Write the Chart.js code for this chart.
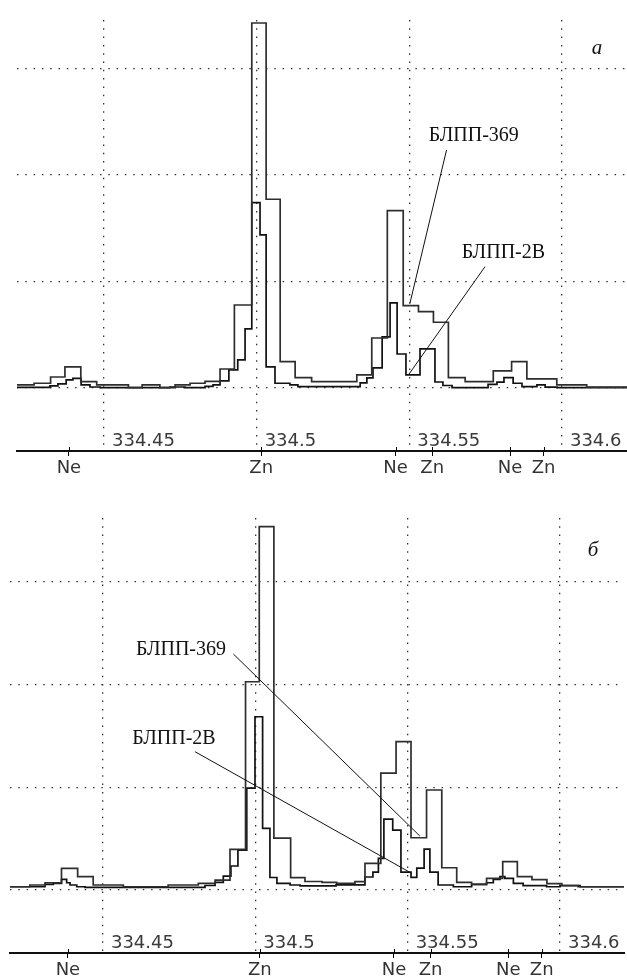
<!DOCTYPE html>
<html>
<head>
<meta charset="utf-8">
<script src="https://cdn.jsdelivr.net/npm/chart.js@4.4.1/dist/chart.umd.min.js"></script>
<style>
  html, body { margin: 0; padding: 0; background: #fff; }
  canvas { display: block; }
</style>
</head>
<body>
<canvas id="panelA" width="627" height="490"></canvas>
<canvas id="panelB" width="627" height="490"></canvas>
<script>
// wavelength grid, nm
const gridTicks = [334.45, 334.5, 334.55, 334.6];
const gridLabels = ['334.45', '334.5', '334.55', '334.6'];
// intensity grid, arb. units
const levelTicks = [0, 1000, 2000, 3000];
// lines marked under the axis
const lineNames = ['Ne', 'Zn', 'Ne', 'Zn', 'Ne', 'Zn'];
const lineWl = [334.4385, 334.5015, 334.5455, 334.5575, 334.5830, 334.5940];
const seriesNames = ['БЛПП-369', 'БЛПП-2В'];

// panel а : pixel edges (nm) and signal of each pixel
const aEdges369 = [334.4215, 334.4271, 334.4325, 334.4372, 334.4424, 334.4476, 334.4580, 334.4625, 334.4683, 334.4733, 334.4782,
	334.4831, 334.4880, 334.4927, 334.4984, 334.5031, 334.5077, 334.5126, 334.5180, 334.5328, 334.5377, 334.5428, 334.5480,
	334.5530, 334.5579, 334.5628, 334.5683, 334.5775, 334.5835, 334.5885, 334.5983, 334.6081, 334.6213];
const aVals369 = [28, 44, 103, 197, 59, 28, 3, 28, 3, 28, 44, 61, 178, 779, 3427, 1772, 247, 97, 59, 122, 469, 1665, 773, 716,
	617, 97, 59, 160, 247, 85, 28, 7];
const aEdges2B = [334.4215, 334.4323, 334.4349, 334.4376, 334.4398, 334.4425, 334.4454, 334.4487, 334.4716, 334.4765, 334.4831,
	334.4857, 334.4880, 334.4909, 334.4938, 334.4962, 334.4984, 334.5011, 334.5031, 334.5060, 334.5109, 334.5135, 334.5339,
	334.5361, 334.5381, 334.5411, 334.5437, 334.5460, 334.5489, 334.5535, 334.5584, 334.5610, 334.5640, 334.5758, 334.5787,
	334.5810, 334.5840, 334.5869, 334.5918, 334.5945, 334.5984, 334.6213];
const aVals2B = [5, 19, 38, 75, 89, 28, 9, 3, 9, 3, 14, 28, 66, 169, 263, 554, 1740, 1437, 197, 44, 28, 12, 47, 94, 188, 479,
	798, 319, 122, 366, 56, 23, 3, 33, 54, 97, 44, 12, 28, 7, 3];

// panel б
const bEdges369 = [334.4195, 334.4260, 334.4310, 334.4364, 334.4417, 334.4468, 334.4567, 334.4714, 334.4813, 334.4868, 334.4917,
	334.4968, 334.5013, 334.5061, 334.5116, 334.5163, 334.5219, 334.5267, 334.5327, 334.5360, 334.5412, 334.5462, 334.5511,
	334.5562, 334.5612, 334.5661, 334.5710, 334.5759, 334.5812, 334.5860, 334.5908, 334.5957, 334.6006, 334.6059, 334.6210];
const bVals369 = [32, 49, 71, 211, 130, 49, 32, 49, 65, 97, 396, 2028, 3539, 506, 120, 83, 75, 65, 81, 260, 1139, 1444, 509,
	974, 217, 75, 55, 114, 276, 131, 102, 63, 44, 32];
const bEdges2B = [334.4195, 334.4310, 334.4337, 334.4364, 334.4381, 334.4392, 334.4414, 334.4441, 334.4835, 334.4868, 334.4895,
	334.4920, 334.4943, 334.4972, 334.4999, 334.5024, 334.5048, 334.5071, 334.5114, 334.5147, 334.5265, 334.5360, 334.5386,
	334.5404, 334.5422, 334.5451, 334.5478, 334.5511, 334.5530, 334.5554, 334.5573, 334.5600, 334.5650, 334.5710, 334.5759,
	334.5781, 334.5803, 334.5819, 334.5847, 334.5879, 334.5956, 334.6000, 334.6066, 334.6210];
const bVals2B = [32, 55, 65, 104, 71, 49, 32, 26, 44, 75, 136, 234, 389, 993, 1687, 601, 122, 65, 49, 40, 50, 127, 175, 309,
	691, 584, 175, 124, 214, 399, 175, 49, 32, 55, 71, 104, 130, 114, 65, 42, 32, 42, 32];

// edges + values -> points for a stepped line (last pixel closed at its right edge)
function steps(edges, vals) {
	var pts = [];
	for (var i = 0; i < vals.length; i++) {
		pts.push({ x: edges[i], y: vals[i] });
	}
	pts.push({ x: edges[edges.length - 1], y: vals[vals.length - 1] });
	return pts;
}

var dots = [1.5, 6.8]; // dotted grid

function drawPanel(id, p) {
	const ctx = document.getElementById(id);
	return new Chart(ctx, {
		type: 'line',
		data: {
			datasets: [{
				label: seriesNames[0],
				data: steps(p.e369, p.v369),
				xAxisID: 'x',
				stepped: 'before',
				borderColor: '#2e2e2e',
				borderWidth: 1.7,
				pointRadius: 0,
				fill: false
			}, {
				label: seriesNames[1],
				data: steps(p.e2B, p.v2B),
				xAxisID: 'x',
				stepped: 'before',
				borderColor: '#111',
				borderWidth: 1.7,
				pointRadius: 0,
				fill: false
			}]
		},
		options: {
			responsive: false,
			animation: false,
			devicePixelRatio: 1,
			layout: { padding: p.pad },
			scales: {
				x: {
					type: 'linear',
					position: 'bottom',
					min: p.xMin,
					max: p.xMax,
					afterBuildTicks: function(s) { s.ticks = lineWl.map(function(v) { return { value: v }; }); },
					afterFit: function(s) { s.height = p.axisH; },
					grid: { drawOnChartArea: false, drawTicks: true, tickLength: 5, color: '#000', lineWidth: 1 },
					border: { display: true, color: '#111', width: 2 },
					ticks: {
						autoSkip: false,
						maxRotation: 0,
						padding: 2,
						color: '#333',
						font: { family: 'DejaVu Sans', size: 18 },
						callback: function(v, i) { return lineNames[i]; }
					}
				},
				xg: {
					type: 'linear',
					position: 'top',
					min: p.xMin,
					max: p.xMax,
					afterBuildTicks: function(s) { s.ticks = gridTicks.map(function(v) { return { value: v }; }); },
					afterFit: function(s) { s.height = 0; },
					grid: { color: '#333', lineWidth: 1.3, drawTicks: false },
					border: { display: false, dash: dots },
					ticks: { display: false }
				},
				y: {
					type: 'linear',
					min: p.yMin,
					max: p.yMax,
					afterBuildTicks: function(s) { s.ticks = levelTicks.map(function(v) { return { value: v }; }); },
					afterFit: function(s) { s.width = 0; },
					grid: { color: '#333', lineWidth: 1.3, drawTicks: false },
					border: { display: false, dash: dots },
					ticks: { display: false }
				}
			},
			plugins: {
				legend: { display: false },
				tooltip: { enabled: false }
			}
		},
		plugins: [{
			afterDraw: function(chart) {
				var c = chart.ctx;
				var xs = chart.scales.x, ys = chart.scales.y, area = chart.chartArea;
				c.save();
				// line marks poke a little above the axis too
				c.strokeStyle = '#000';
				c.lineWidth = 1;
				lineWl.forEach(function(v) {
					var px = Math.round(xs.getPixelForValue(v)) + 0.5;
					c.beginPath();
					c.moveTo(px, area.bottom - 4);
					c.lineTo(px, area.bottom);
					c.stroke();
				});
				// wavelength labels sit inside, just above the axis line
				c.font = '18px "DejaVu Sans"';
				c.fillStyle = '#3a3a3a';
				c.textAlign = 'left';
				c.textBaseline = 'middle';
				gridTicks.forEach(function(v, i) {
					c.fillText(gridLabels[i], xs.getPixelForValue(v) + 8, area.bottom - 10);
				});
				// detector names with leader lines
				c.font = '20px "Liberation Serif"';
				c.fillStyle = '#111';
				c.strokeStyle = '#111';
				c.lineWidth = 1;
				c.textAlign = 'center';
				p.notes.forEach(function(n) {
					c.fillText(n.text, xs.getPixelForValue(n.x), ys.getPixelForValue(n.y));
					c.beginPath();
					c.moveTo(xs.getPixelForValue(n.from[0]), ys.getPixelForValue(n.from[1]));
					c.lineTo(xs.getPixelForValue(n.to[0]), ys.getPixelForValue(n.to[1]));
					c.stroke();
				});
				c.font = 'italic 21px "Liberation Serif"';
				c.fillText(p.tag.text, xs.getPixelForValue(p.tag.x), ys.getPixelForValue(p.tag.y));
				c.restore();
			}
		}]
	});
}

drawPanel('panelA', {
	e369: aEdges369, v369: aVals369, e2B: aEdges2B, v2B: aVals2B,
	xMin: 334.4215, xMax: 334.6213, yMin: -592, yMax: 3455,
	pad: { left: 17, right: 0, top: 20, bottom: 0 }, axisH: 39,
	tag: { text: 'а', x: 334.6115, y: 3190 },
	notes: [
		{ text: seriesNames[0], x: 334.5711, y: 2366, from: [334.5622, 2235], to: [334.5502, 795] },
		{ text: seriesNames[1], x: 334.5808, y: 1268, from: [334.5748, 1139], to: [334.5497, 122] }
	]
});

drawPanel('panelB', {
	e369: bEdges369, v369: bVals369, e2B: bEdges2B, v2B: bVals2B,
	xMin: 334.4195, xMax: 334.6210, yMin: -613, yMax: 3622,
	pad: { left: 10, right: 3, top: 28, bottom: 0 }, axisH: 27,
	tag: { text: 'б', x: 334.6108, y: 3310 },
	notes: [
		{ text: seriesNames[0], x: 334.4756, y: 2337, from: [334.4928, 2298], to: [334.5540, 526] },
		{ text: seriesNames[1], x: 334.4733, y: 1477, from: [334.4802, 1347], to: [334.5513, 163] }
	]
});
</script>
</body>
</html>
